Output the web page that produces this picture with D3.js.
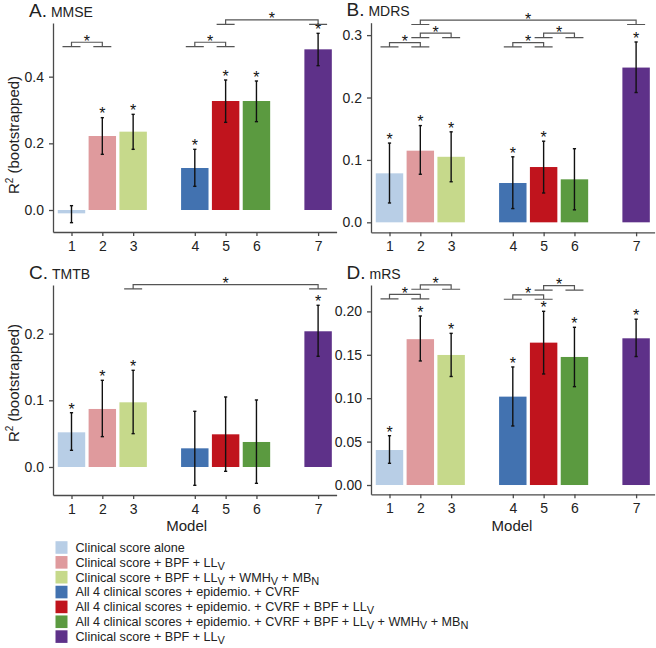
<!DOCTYPE html>
<html><head><meta charset="utf-8">
<script src="https://cdn.jsdelivr.net/npm/d3@7"></script>
<style>body{margin:0;background:#fff} text{font-family:"Liberation Sans", Arial, Helvetica, sans-serif}</style>
</head><body><svg id="c" width="656" height="648"></svg>
<script>
// ---------- data ----------
const models = ["1","2","3","4","5","6","7"];
const modelGroups = [0,0,0,1,1,1,2];
const barColors = ["#b8cee6","#df9a9d","#c6d98b","#4272b0","#c0141d","#5b9a40","#5e3189"];
const legendLabels = [
  "Clinical score alone",
  "Clinical score + BPF + LL_V",
  "Clinical score + BPF + LL_V + WMH_V + MB_N",
  "All 4 clinical scores + epidemio. + CVRF",
  "All 4 clinical scores + epidemio. + CVRF + BPF + LL_V",
  "All 4 clinical scores + epidemio. + CVRF + BPF + LL_V + WMH_V + MB_N",
  "Clinical score + BPF + LL_V"
];

// A. MMSE
const mmseR2  = [-0.010, 0.222, 0.235, 0.126, 0.327, 0.327, 0.482];
const mmseLo  = [-0.038, 0.167, 0.182, 0.071, 0.263, 0.265, 0.433];
const mmseHi  = [ 0.013, 0.277, 0.287, 0.182, 0.390, 0.387, 0.530];
const mmseSig = [0,1,1,1,1,1,1];
const mmseBrackets = [[1,2,0.490],[4,5,0.490],[5,7,0.557]];
const mmseTicks = [0.0, 0.2, 0.4];

// B. MDRS
const mdrsR2  = [0.0785, 0.1148, 0.105, 0.063, 0.0886, 0.0689, 0.248];
const mdrsLo  = [0.031, 0.077, 0.065, 0.022, 0.047, 0.020, 0.208];
const mdrsHi  = [0.127, 0.155, 0.145, 0.105, 0.130, 0.118, 0.289];
const mdrsSig = [1,1,1,1,1,0,1];
const mdrsBrackets = [[1,2,0.281],[2,3,0.296],[2,7,0.317],[4,5,0.281],[5,6,0.296]];
const mdrsTicks = [0.0, 0.1, 0.2, 0.3];

// C. TMTB
const tmtbR2  = [0.052, 0.087, 0.097, 0.028, 0.049, 0.0375, 0.2035];
const tmtbLo  = [0.025, 0.0455, 0.050, -0.0275, -0.0065, -0.0245, 0.166];
const tmtbHi  = [0.0814, 0.130, 0.145, 0.0835, 0.105, 0.1005, 0.2425];
const tmtbSig = [1,1,1,0,0,0,1];
const tmtbBrackets = [[3,7,0.267]];
const tmtbTicks = [0.0, 0.1, 0.2];

// D. mRS
const mrsR2  = [0.0403, 0.168, 0.1498, 0.1018, 0.164, 0.1475, 0.169];
const mrsLo  = [0.025, 0.1429, 0.125, 0.068, 0.1279, 0.1133, 0.148];
const mrsHi  = [0.0568, 0.1947, 0.1747, 0.136, 0.2001, 0.1817, 0.191];
const mrsSig = [1,1,1,1,1,1,1];
const mrsBrackets = [[1,2,0.2145],[2,3,0.2255],[4,5,0.2140],[5,6,0.2245]];
const mrsTicks = [0.00, 0.05, 0.10, 0.15, 0.20];

// ---------- layout ----------
const panels = [
  {letter:"A.", name:"MMSE", r2:mmseR2, lo:mmseLo, hi:mmseHi, sig:mmseSig, br:mmseBrackets, ticks:mmseTicks, fmt:".1f",
   x0:53, x1:336.6, y0:23, y1:232, ydom:[-0.066,0.561], tx:29, ty:16.5, ylab:135, model:null},
  {letter:"B.", name:"MDRS", r2:mdrsR2, lo:mdrsLo, hi:mdrsHi, sig:mdrsSig, br:mdrsBrackets, ticks:mdrsTicks, fmt:".1f",
   x0:371, x1:654.6, y0:22.7, y1:232.3, ydom:[-0.016,0.3199], tx:346.5, ty:15.5, ylab:null, model:null},
  {letter:"C.", name:"TMTB", r2:tmtbR2, lo:tmtbLo, hi:tmtbHi, sig:tmtbSig, br:tmtbBrackets, ticks:tmtbTicks, fmt:".1f",
   x0:53, x1:336.6, y0:285, y1:495, ydom:[-0.042,0.2729], tx:29, ty:279, ylab:383, model:186.7},
  {letter:"D.", name:"mRS", r2:mrsR2, lo:mrsLo, hi:mrsHi, sig:mrsSig, br:mrsBrackets, ticks:mrsTicks, fmt:".2f",
   x0:371, x1:654.6, y0:285, y1:494.3, ydom:[-0.0107,0.2304], tx:346.5, ty:278.5, ylab:null, model:512}
];

const svg = d3.select("#c");
const slots = models.map((m,i)=> i + 1 + modelGroups[i]);
const axisCol = "#4a4a4a";

function richText(sel, str, subSize){
  const parts = str.split(/(_\w)/);
  let sub = false;
  parts.forEach(p=>{
    if(p.startsWith("_")){
      sel.append("tspan").attr("dy", 3).attr("font-size", subSize).text(p.slice(1));
      sub = true;
    } else if(p){
      sel.append("tspan").attr("dy", sub ? -3 : 0).text(p);
      sub = false;
    }
  });
}

panels.forEach(P=>{
  const x = d3.scaleLinear().domain([0.4, 9.6]).range([P.x0, P.x1]);
  const y = d3.scaleLinear().domain(P.ydom).range([P.y1, P.y0]);
  const bw = (x(2)-x(1))*0.89;
  const g = svg.append("g");

  // bars
  g.selectAll("rect.bar").data(P.r2).join("rect")
    .attr("x",(d,i)=>x(slots[i])-bw/2)
    .attr("y",d=>y(Math.max(0,d)))
    .attr("width",bw)
    .attr("height",d=>Math.abs(y(d)-y(0)))
    .attr("fill",(d,i)=>barColors[i]);

  // error bars
  const eb = g.selectAll("g.eb").data(P.r2).join("g");
  eb.append("line").attr("x1",(d,i)=>x(slots[i])).attr("x2",(d,i)=>x(slots[i]))
    .attr("y1",(d,i)=>y(P.lo[i])).attr("y2",(d,i)=>y(P.hi[i]))
    .attr("stroke","#111").attr("stroke-width",1.4);
  [P.lo,P.hi].forEach(arr=>{
    eb.append("line").attr("x1",(d,i)=>x(slots[i])-1.6).attr("x2",(d,i)=>x(slots[i])+1.6)
      .attr("y1",(d,i)=>y(arr[i])).attr("y2",(d,i)=>y(arr[i]))
      .attr("stroke","#111").attr("stroke-width",1.4);
  });
  // stars
  g.selectAll("text.star").data(P.r2.map((d,i)=>i).filter(i=>P.sig[i])).join("text")
    .attr("x",i=>x(slots[i])).attr("y",i=>y(P.hi[i])+1.8)
    .attr("text-anchor","middle").attr("font-size",16).attr("fill","#111").text("*");

  // axes
  const ya = g.append("g").attr("transform",`translate(${P.x0},0)`)
    .call(d3.axisLeft(y).tickValues(P.ticks).tickFormat(d3.format(P.fmt)).tickSize(4).tickSizeOuter(0).tickPadding(5));
  const xa = g.append("g").attr("transform",`translate(0,${P.y1})`)
    .call(d3.axisBottom(x).tickValues(slots).tickFormat((d,i)=>models[i]).tickSize(4).tickSizeOuter(0).tickPadding(5));
  [ya,xa].forEach(a=>{
    a.selectAll("path,line").attr("stroke",axisCol).attr("stroke-width",1.3);
    a.selectAll("text").attr("fill","#222").attr("font-size",14).attr("font-family",null);
  });

  // brackets
  P.br.forEach(([a,b,lev])=>{
    const xa_ = x(slots[a-1]), xb_ = x(slots[b-1]);
    const yl = y(lev), yt = yl - 4.4;
    const path = d3.path();
    path.moveTo(xa_-9, yl); path.lineTo(xa_+9, yl);
    path.moveTo(xb_-9, yl); path.lineTo(xb_+9, yl);
    path.moveTo(xa_, yl); path.lineTo(xa_, yt); path.lineTo(xb_, yt); path.lineTo(xb_, yl);
    g.append("path").attr("d", path.toString()).attr("fill","none")
      .attr("stroke","#555").attr("stroke-width",1.2);
    g.append("text").attr("x",(xa_+xb_)/2).attr("y",yt+4.5)
      .attr("text-anchor","middle").attr("font-size",16).attr("fill","#111").text("*");
  });

  // title
  const t = g.append("text").attr("x",P.tx).attr("y",P.ty).attr("fill","#222");
  t.append("tspan").attr("font-size",19).text(P.letter);
  t.append("tspan").attr("font-size",14).attr("dx",4).text(P.name);

  // y label
  if(P.ylab!==null){
    const yl = g.append("text").attr("transform",`translate(19,${P.ylab}) rotate(-90)`)
      .attr("text-anchor","middle").attr("font-size",15).attr("fill","#222");
    yl.append("tspan").text("R");
    yl.append("tspan").attr("font-size",10).attr("dy",-6).text("2");
    yl.append("tspan").attr("dy",6).text(" (bootstrapped)");
  }
  if(P.model!==null){
    g.append("text").attr("x",P.model).attr("y",531).attr("text-anchor","middle")
      .attr("font-size",15).attr("fill","#222").text("Model");
  }
});

// legend
const lg = svg.append("g");
legendLabels.forEach((lab,i)=>{
  const cy = 547.5 + i*14.85;
  lg.append("rect").attr("x",55.5).attr("y",cy-6.3).attr("width",12).attr("height",12.6).attr("fill",barColors[i]);
  const t = lg.append("text").attr("x",75.5).attr("y",cy+4.3).attr("font-size",12.6).attr("fill","#222");
  richText(t, lab, 11);
});
</script></body></html>
